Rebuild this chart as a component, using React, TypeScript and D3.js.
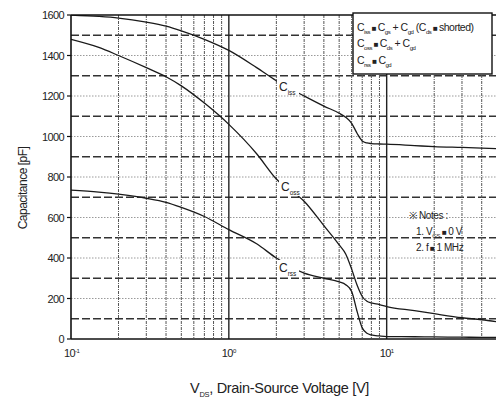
import React from "react";
import * as d3 from "d3";

const voltages = [0.1, 0.15, 0.2, 0.3, 0.4, 0.5, 0.7, 1, 1.5, 2, 3, 4, 5, 5.5, 6, 6.5, 7, 7.5, 8, 9, 10, 15, 20, 30, 40, 50];
const ciss = [1600, 1593, 1585, 1565, 1545, 1522, 1480, 1425, 1340, 1275, 1200, 1150, 1115, 1095, 1065, 1015, 978, 968, 965, 963, 962, 955, 950, 946, 943, 940];
const coss = [1480, 1440, 1400, 1340, 1295, 1250, 1165, 1060, 915, 790, 680, 560, 465, 420, 345, 265, 210, 186, 178, 170, 160, 140, 125, 105, 95, 85];
const crss = [735, 725, 715, 695, 675, 650, 605, 540, 470, 400, 325, 300, 282, 268, 235, 135, 55, 28, 20, 15, 12, 11, 10, 9, 8, 8];

const yTicks = [0, 200, 400, 600, 800, 1000, 1200, 1400, 1600];
const yGrid = [100, 200, 300, 400, 500, 600, 700, 800, 900, 1000, 1100, 1200, 1300, 1400, 1500];
const xMinor = [0.2, 0.3, 0.4, 0.5, 0.6, 0.7, 0.8, 0.9, 2, 3, 4, 5, 6, 7, 8, 9, 20, 30, 40];
const xMajor = [1, 10];
const xTickLabels = [{ v: 0.1, exp: "-1" }, { v: 1, exp: "0" }, { v: 10, exp: "1" }];

const W = 496, H = 399;
const FONT = "'Liberation Sans', Arial, sans-serif";

export default function App() {
  const x = d3.scaleLog().domain([0.1, 50]).range([71, 497]);
  const y = d3.scaleLinear().domain([0, 1600]).range([339, 15]);
  const line = d3.line<[number, number]>().x(d => x(d[0])).y(d => y(d[1])).curve(d3.curveMonotoneX);
  const series = [ciss, coss, crss].map(s => line(voltages.map((v, i) => [v, s[i]] as [number, number])) as string);

  const labels = [
    { main: "C", sub: "iss", x: 279, y: 91 },
    { main: "C", sub: "oss", x: 281, y: 191 },
    { main: "C", sub: "rss", x: 279, y: 272 },
  ];

  return (
    <svg width={W} height={H} style={{ position: "absolute", left: 0, top: 0, background: "#fff" }} fontFamily={FONT}>
      <defs>
        <mask id="lblmask">
          <rect x={0} y={0} width={W} height={H} fill="#fff" />
          {labels.map((l, i) => (
            <rect key={i} x={l.x - 2} y={l.y - 12} width={22} height={17} fill="#000" />
          ))}
        </mask>
        <clipPath id="plotclip"><rect x={71} y={15} width={426} height={324} /></clipPath>
      </defs>
      {yGrid.map(v => (
        <line key={"h" + v} x1={71} x2={497} y1={y(v)} y2={y(v)}
          stroke={v % 200 === 0 ? "#9a9a9a" : "#333"}
          strokeWidth={v % 200 === 0 ? 1 : 1.4}
          strokeDasharray={v % 200 === 0 ? "1.5,1.5" : "8,3"} />
      ))}
      {xMinor.map(v => (
        <line key={"v" + v} x1={x(v)} x2={x(v)} y1={15} y2={339}
          stroke="#555" strokeWidth={1} strokeDasharray="3,1,1,1" />
      ))}
      {xMajor.map(v => (
        <line key={"M" + v} x1={x(v)} x2={x(v)} y1={15} y2={339} stroke="#222" strokeWidth={1.4} />
      ))}
      <g mask="url(#lblmask)" clipPath="url(#plotclip)">
        {series.map((d, i) => (
          <path key={i} d={d} fill="none" stroke="#1a1a1a" strokeWidth={1.3} />
        ))}
      </g>
      <line x1={71} x2={497} y1={15} y2={15} stroke="#111" strokeWidth={1.4} />
      <line x1={71} x2={497} y1={339} y2={339} stroke="#111" strokeWidth={1.6} />
      <line x1={71} x2={71} y1={15} y2={339} stroke="#111" strokeWidth={1.6} />
      {yTicks.map(v => (
        <g key={"yt" + v}>
          <line x1={67} x2={71} y1={y(v)} y2={y(v)} stroke="#111" strokeWidth={1.2} />
          <text x={64} y={y(v) + 4} textAnchor="end" fontSize={11} letterSpacing={-0.6} fill="#222">{v}</text>
        </g>
      ))}
      {xTickLabels.map(t => (
        <text key={"xt" + t.v} x={x(t.v) - 7} y={357} fontSize={11} letterSpacing={-0.6} fill="#222">
          10<tspan dy={-4} fontSize={6}>{t.exp}</tspan>
        </text>
      ))}
      {labels.map((l, i) => (
        <text key={"cl" + i} x={l.x} y={l.y} fontSize={12} fill="#222">
          {l.main}<tspan dy={4} fontSize={6.5}>{l.sub}</tspan>
        </text>
      ))}
      <rect x={353} y={13} width={139} height={61} fill="#fff" stroke="#111" strokeWidth={1.4} />
      <g fontSize={10.5} fill="#222" letterSpacing={-0.5}>
        <text x={357} y={31}>
          C<tspan dy={3} fontSize={6}>iss</tspan><tspan dy={-3} fontSize={8}> ■ </tspan>C<tspan dy={3} fontSize={6}>gs</tspan><tspan dy={-3}> + C</tspan><tspan dy={3} fontSize={6}>gd</tspan><tspan dy={-3}> (C</tspan><tspan dy={3} fontSize={6}>ds</tspan><tspan dy={-3} fontSize={8}> ■ </tspan>shorted)
        </text>
        <text x={357} y={47}>
          C<tspan dy={3} fontSize={6}>oss</tspan><tspan dy={-3} fontSize={8}> ■ </tspan>C<tspan dy={3} fontSize={6}>ds</tspan><tspan dy={-3}> + C</tspan><tspan dy={3} fontSize={6}>gd</tspan>
        </text>
        <text x={357} y={64}>
          C<tspan dy={3} fontSize={6}>rss</tspan><tspan dy={-3} fontSize={8}> ■ </tspan>C<tspan dy={3} fontSize={6}>gd</tspan>
        </text>
      </g>
      <g fontSize={10} fill="#222" letterSpacing={-0.4}>
        <text x={409} y={219}>※ Notes :</text>
        <text x={416} y={235}>1. V<tspan dy={3} fontSize={6}>GS</tspan><tspan dy={-3} fontSize={8}> ■ </tspan>0 V</text>
        <text x={416} y={251}>2. f<tspan fontSize={8}> ■ </tspan>1 MHz</text>
      </g>
      <text transform="translate(27,188) rotate(-90)" textAnchor="middle" fontSize={12} letterSpacing={-0.5} fill="#222">Capacitance [pF]</text>
      <text x={190} y={393} fontSize={14.5} letterSpacing={-0.3} fill="#222">
        V<tspan dy={4} fontSize={7.5}>DS</tspan><tspan dy={-4}>, Drain-Source Voltage [V]</tspan>
      </text>
    </svg>
  );
}
